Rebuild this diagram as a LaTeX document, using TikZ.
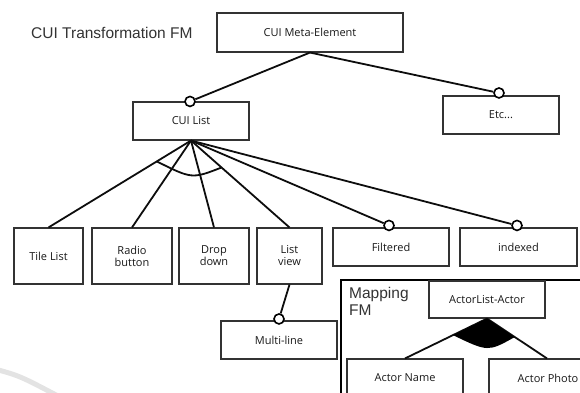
\documentclass[tikz,border=0pt]{standalone}
\usepackage{fontspec}
\setmainfont{Liberation Sans}
\newfontfamily\labelfont{Open Sans}
\usetikzlibrary{calc}

\tikzset{
  lbl/.style={font=\labelfont\fontsize{11}{13}\selectfont, text=black!90},
  feat/.style={draw=black!80, line width=1.1pt, fill=white, inner sep=0pt,
    minimum width=#1, lbl, align=center},
  feat/.default=116pt,
  opt/.style={circle, draw=black, line width=1.6pt, fill=white,
    inner sep=0pt, minimum size=10pt},
  link/.style={line width=1.8pt, draw=black!95},
  title/.style={font=\fontsize{15.5}{17}\selectfont, text=black!80,
    inner sep=0pt, align=left}
}

\begin{document}
\begin{tikzpicture}[x=1pt, y=-1pt]
  \useasboundingbox (0,0) rectangle (580,392);
  \clip (0,0) rectangle (580,392);

  % faint swoosh in the lower left corner
  \draw[gray!22, line width=5pt] (-5,369) .. controls (20,376) .. (58,396);

  % title of the transformation feature model
  \node[title, anchor=west] (ttl) at (31,33) {CUI Transformation FM};

  % features
  \node[feat=186pt, minimum height=39pt] (meta) at (310,32.5) {CUI Meta-Element};
  \node[feat, minimum height=38pt] (cl)  at (191,121) {CUI List};
  \node[feat, minimum height=38pt] (etc) at (501,115) {Etc...};

  \node[feat=69pt, minimum height=56pt] (tile)  at (48.5,256) {Tile List};
  \node[feat=80pt, minimum height=56pt] (radio) at (132,256) {Radio\\[-1pt]button};
  \node[feat=70pt, minimum height=56pt] (drop)  at (214,256) {Drop\\[-1pt]down};
  \node[feat=65pt, minimum height=56pt] (lv)    at (289.5,256) {List\\[-1pt]view};
  \node[feat, minimum height=38pt] (filt) at (391,247) {Filtered};
  \node[feat=117pt, minimum height=38pt] (idx) at (518.5,247) {indexed};
  \node[feat, minimum height=38pt] (ml)  at (279,340) {Multi-line};

  % optional markers
  \node[opt] (o-cl)   at ($(cl.north)+(-1,0)$) {};
  \node[opt] (o-etc)  at ($(etc.north)+(-2,-2.5)$) {};
  \node[opt] (o-filt) at ($(filt.north)+(-2,-2)$) {};
  \node[opt] (o-idx)  at ($(idx.north)+(-1.5,-2)$) {};
  \node[opt] (o-ml)   at ($(ml.north)+(0,-1.5)$) {};

  % connectors
  \draw[link] (meta.south) -- (o-cl);
  \draw[link] (meta.south) -- (o-etc);
  \draw[link] (cl.south) -- (tile.north);
  \draw[link] (cl.south) -- (radio.north);
  \draw[link] (cl.south) -- (drop.north);
  \draw[link] (cl.south) -- (lv.north);
  \draw[link] (cl.south) -- (o-filt);
  \draw[link] (cl.south) -- (o-idx);
  \draw[link] (lv.south) -- (o-ml);

  % alternative group arc
  \coordinate (alt-a) at ($(cl.south)!0.24!(tile.north)$);
  \coordinate (alt-b) at ($(cl.south)!0.31!(lv.north)$);
  \draw[link] (alt-a) .. controls (192,179) .. (alt-b);

  % mapping feature model frame
  \draw[line width=1.8pt, draw=black] (341,400) -- (341,280) -- (590,280);
  \node[title, anchor=north west] (mtl) at (349,287) {Mapping\\FM};

  \node[feat, minimum height=37pt] (al) at (487,299.5) {ActorList-Actor};
  \node[feat, minimum height=50pt] (an) at (405,384) {};
  \node[feat, minimum height=50pt] (ap) at (547,384) {};
  \node[lbl] (an-t) at (405,378) {Actor Name};
  \node[lbl] (ap-t) at (548,378) {Actor Photo};

  \draw[link] (al.south) -- (an.north);
  \draw[link] (al.south) -- (ap.north);

  % or group (filled arc)
  \coordinate (or-a) at ($(al.south)!0.415!(an.north)$);
  \coordinate (or-b) at ($(al.south)!0.463!(ap.north)$);
  \fill[black] (al.south) -- (or-a) .. controls (488,352) .. (or-b) -- cycle;
\end{tikzpicture}
\end{document}
